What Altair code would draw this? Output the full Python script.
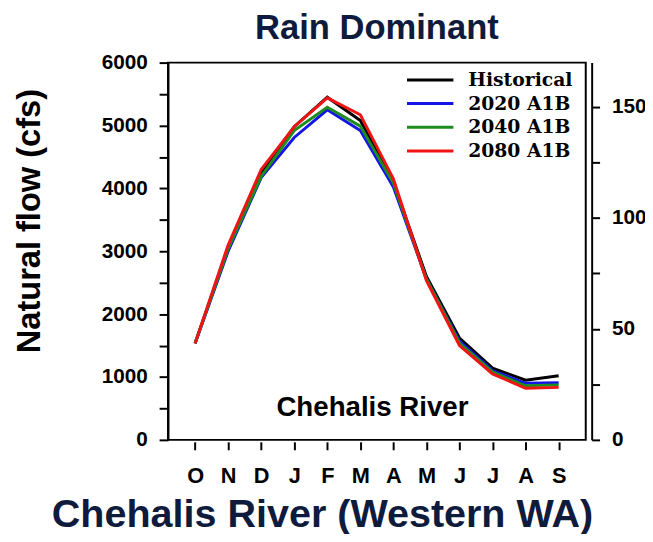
import altair as alt
import pandas as pd

months = ["Oct", "Nov", "Dec", "Jan", "Feb", "Mar", "Apr", "May", "Jun", "Jul", "Aug", "Sep"]
series = ["Historical", "2020 A1B", "2040 A1B", "2080 A1B"]
historical = [1535, 3050, 4250, 4980, 5450, 5080, 4100, 2600, 1620, 1140, 950, 1020]
a2020 = [1535, 3000, 4170, 4810, 5250, 4920, 4020, 2560, 1570, 1100, 900, 910]
a2040 = [1535, 3040, 4190, 4920, 5290, 4990, 4080, 2560, 1540, 1080, 860, 875]
a2080 = [1535, 3100, 4300, 4980, 5440, 5170, 4150, 2530, 1500, 1050, 820, 835]
colors = ["#000000", "#1414e6", "#1e8c1e", "#f01414"]
left_ticks = list(range(0, 6001, 500))
right_ticks = list(range(0, 151, 25))
CFS_PER_CMS = 35.3147
NAVY = "#0f1b3d"

rows = []
for name, vals in zip(series, [historical, a2020, a2040, a2080]):
    for m, v in zip(months, vals):
        rows.append({"month": m, "series": name, "flow": v})
df = pd.DataFrame(rows)

x_enc = alt.X(
    "month:N", sort=months,
    scale=alt.Scale(type="point", padding=0.82),
    axis=alt.Axis(
        title="Chehalis River (Western WA)",
        labelExpr="substring(datum.label, 0, 1)",
        labelAngle=0, labelFontSize=22, labelPadding=16,
        tickSize=8, offset=2, domain=False,
        titleFontSize=40, titleColor=NAVY, titleX=156, titleY=86,
        titleBaseline="alphabetic", titleAlign="center",
    ),
)

base = alt.Chart(df)

lines = base.mark_line(strokeWidth=3).encode(
    x=x_enc,
    y=alt.Y(
        "flow:Q",
        scale=alt.Scale(domain=[0, 6000], nice=False),
        axis=alt.Axis(
            title="Natural flow (cfs)", values=left_ticks,
            labelExpr="datum.value % 1000 == 0 ? datum.label : ''",
            format="d", tickSize=9, labelPadding=12, labelFontSize=21,
            titleFontSize=33, titleX=-140, titleY=160, titleBaseline="middle",
        ),
    ),
    color=alt.Color(
        "series:N", sort=series,
        scale=alt.Scale(domain=series, range=colors),
        legend=alt.Legend(
            title=None, orient="none", legendX=252, legendY=4,
            symbolType="M-2,0L2,0", symbolSize=552, symbolStrokeWidth=3,
            labelFont="DejaVu Serif", labelFontWeight="bold", labelFontSize=19,
            labelColor="black", labelOffset=25, rowPadding=-1, padding=0,
        ),
    ),
)

cms = base.transform_calculate(cms=f"datum.flow / {CFS_PER_CMS}").mark_line(opacity=0).encode(
    x=x_enc,
    y=alt.Y(
        "cms:Q",
        scale=alt.Scale(domain=[0, 6000 / CFS_PER_CMS], nice=False),
        axis=alt.Axis(
            orient="right", title=None, values=right_ticks,
            labelExpr="datum.value % 50 == 0 ? datum.label : ''",
            offset=6, tickSize=8, labelPadding=12, labelFontSize=21,
        ),
    ),
    detail="series:N",
)

label = alt.Chart(pd.DataFrame({"t": ["Chehalis River"]})).mark_text(
    font="Liberation Sans", fontWeight="bold", fontSize=28, color="black",
    align="center", baseline="alphabetic",
).encode(text="t:N", x=alt.value(207), y=alt.value(358))

chart = alt.layer(lines, cms, label).resolve_scale(y="independent").properties(
    width=423, height=382,
    title=alt.TitleParams("Rain Dominant", fontSize=35, font="Liberation Sans",
                          fontWeight="bold", color=NAVY, anchor="middle", offset=6),
    autosize=alt.AutoSizeParams(type="none"),
    padding={"left": 162, "top": 52, "right": 60, "bottom": 92},
).configure_view(stroke="black", strokeWidth=2).configure_axis(
    grid=False, domainColor="black", domainWidth=2, tickColor="black", tickWidth=2,
    labelColor="black", labelFont="Liberation Sans", labelFontWeight="bold",
    titleFont="Liberation Sans", titleFontWeight="bold", titleColor="black",
)

chart.save("out.html", embed_options={"renderer": "svg", "actions": False})
